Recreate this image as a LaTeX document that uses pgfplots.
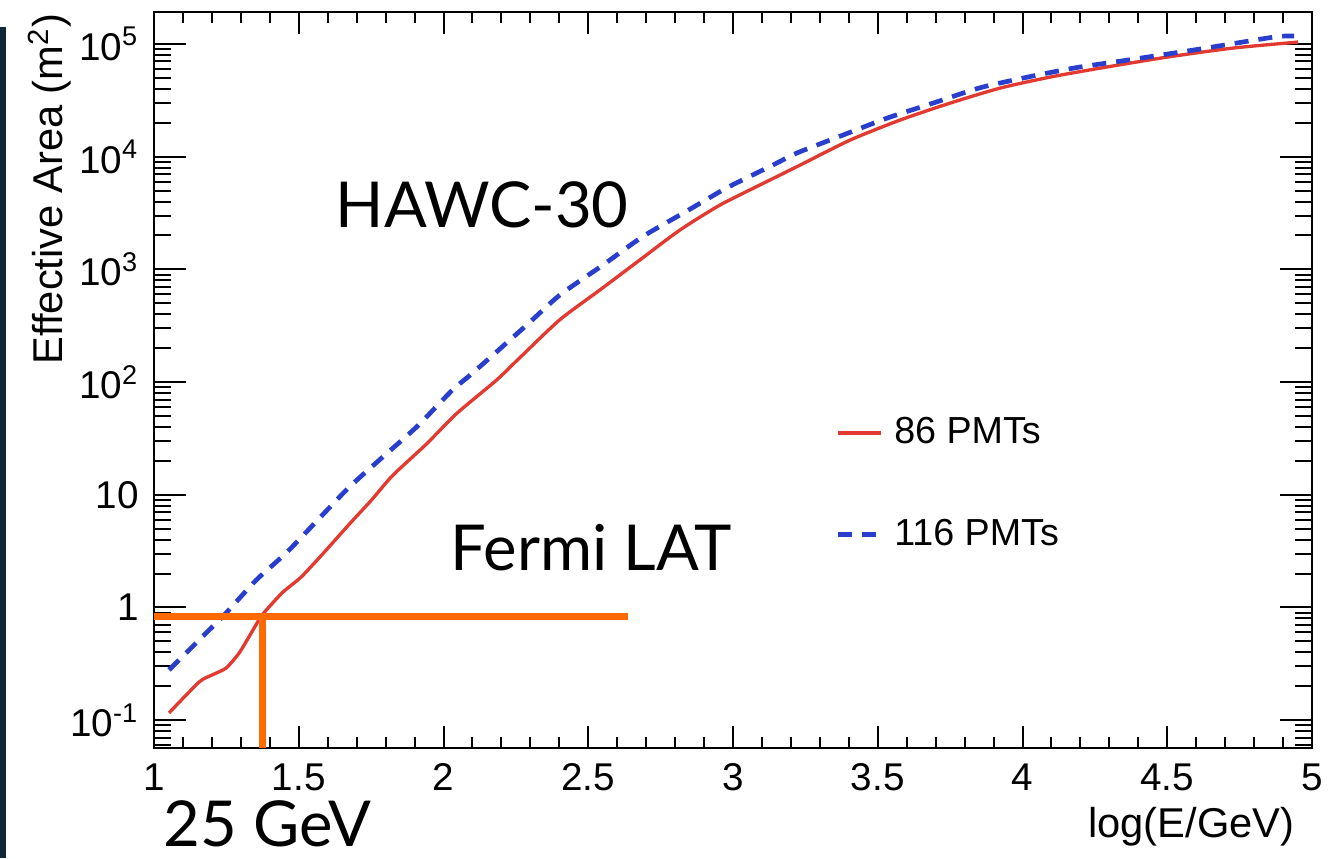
\documentclass[border=0pt]{standalone}
\usepackage{graphicx}
\usepackage{fontspec}
\setmainfont{Liberation Sans}
\newfontfamily\lato{Lato}
\usepackage{pgfplots}
\pgfplotsset{compat=1.18}
\usepackage{pgfplotstable}
\definecolor{rootred}{RGB}{226,58,48}
\definecolor{rootblue}{RGB}{42,62,205}
\definecolor{slideorange}{RGB}{255,106,0}
\definecolor{slidenavy}{RGB}{18,38,58}

\pgfplotstableread{
x y
1.052 0.116
1.156 0.218
1.201 0.252
1.249 0.290
1.294 0.394
1.336 0.594
1.374 0.859
1.443 1.35
1.509 1.87
1.588 3.09
1.675 5.50
1.750 8.90
1.824 14.8
1.941 28.2
2.045 52.5
2.183 104
2.263 164
2.401 356
2.540 656
2.678 1211
2.817 2239
2.955 3724
3.093 5610
3.232 8433
3.405 14060
3.578 21180
3.751 29950
3.924 40700
4.097 50960
4.270 61200
4.502 76700
4.730 92200
4.952 104000
}\redtab

\pgfplotstableread{
x y
1.052 0.279
1.156 0.515
1.249 0.893
1.353 1.75
1.467 3.24
1.664 11.0
1.779 20.4
1.907 40.0
2.031 85.1
2.100 120
2.287 320
2.401 590
2.550 1090
2.689 1960
2.841 3300
2.979 5300
3.138 8433
3.221 10790
3.381 15590
3.533 22030
3.692 29950
3.855 41000
4.028 51500
4.190 62000
4.363 72000
4.616 90500
4.869 115300
4.938 117800
}\bluetab

\begin{document}
\begin{tikzpicture}
% axis with y ticks
\begin{axis}[
  at={(46.2pt,33pt)}, anchor=south west,
  scale only axis, width=347.4pt, height=220.8pt,
  xmin=1, xmax=5, ymode=log, ymin=0.0566, ymax=192300,
  tick align=inside,
  axis line style={line width=0.8pt, black},
  every tick/.style={black, line width=0.6pt},
  ticklabel style={font=\fontsize{11.6}{13}\selectfont},
  xtick=\empty,
  ytick={0.1,1,10,100,1000,10000,100000},
  yticklabels={10\textsuperscript{-1},1,10,10\textsuperscript{2},10\textsuperscript{3},10\textsuperscript{4},10\textsuperscript{5}},
  minor ytick={0.06,0.07,0.08,0.09,0.2,0.3,0.4,0.5,0.6,0.7,0.8,0.9,2,3,4,5,6,7,8,9,20,30,40,50,60,70,80,90,200,300,400,500,600,700,800,900,2000,3000,4000,5000,6000,7000,8000,9000,20000,30000,40000,50000,60000,70000,80000,90000},
  major tick length=9.6pt, minor tick length=5.2pt,
  yticklabel style={xshift=-1pt},
]
\end{axis}
% axis with x ticks and data
\begin{axis}[
  at={(46.2pt,33pt)}, anchor=south west,
  scale only axis, width=347.4pt, height=220.8pt,
  xmin=1, xmax=5, ymode=log, ymin=0.0566, ymax=192300,
  tick align=inside,
  axis line style={line width=0.8pt, black},
  every tick/.style={black, line width=0.6pt},
  ticklabel style={font=\fontsize{11.6}{13}\selectfont},
  ytick=\empty,
  xtick={1,1.5,2,2.5,3,3.5,4,4.5,5},
  xticklabels={1,1.5,2,2.5,3,3.5,4,4.5,5},
  minor x tick num=4,
  major tick length=6.6pt, minor tick length=3.3pt,
  xticklabel style={yshift=-1.2pt},
  legend cell align=left,
  legend image code/.code={\draw[#1] (0pt,0pt) -- (13pt,0pt);},
  legend style={draw=none, fill=none, at={(axis description cs:0.588,0.359)}, anchor=west,
    font=\fontsize{11.3}{13}\selectfont, row sep=17pt, inner sep=0pt,
    nodes={inner sep=2pt}},
  legend entries={\hspace{1.2pt}86 PMTs, \hspace{1.2pt}116 PMTs},
]
\addplot[rootred, line width=1pt, smooth, tension=0.4] table[x=x,y=y] {\redtab};
\addplot[rootblue, line width=1.4pt, dash pattern=on 4.2pt off 3pt, smooth, tension=0.4] table[x=x,y=y] {\bluetab};
\addplot[slideorange, line width=2.1pt, forget plot] coordinates {(1,0.83) (2.637,0.83)};
\addplot[slideorange, line width=2.1pt, forget plot] coordinates {(1.374,0.83) (1.374,0.0566)};
\end{axis}
\node[rotate=90, anchor=base east, inner sep=0pt, font=\fontsize{12.5}{14}\selectfont] at (18.9pt,253.5pt) {Effective Area (m\textsuperscript{2})};
\node[anchor=north east, inner sep=0pt, font=\fontsize{12.5}{14}\selectfont] at (388.5pt,15.3pt) {log(E/GeV)};
\node[anchor=base west, inner sep=0pt, font=\lato\fontsize{19}{22}\selectfont] at (100.5pt,189pt) {HAWC-30};
\node[anchor=base west, inner sep=0pt, font=\lato\fontsize{19}{22}\selectfont] at (135pt,86.4pt) {Fermi LAT};
\node[anchor=base west, inner sep=0pt, font=\lato\fontsize{19}{22}\selectfont] at (48.9pt,3.4pt) {25 GeV};
\fill[slidenavy] (0pt,0pt) rectangle (1.8pt,249.3pt);
\pgfresetboundingbox
\useasboundingbox (0pt,0pt) rectangle (398.4pt,257.4pt);
\end{tikzpicture}
\end{document}
